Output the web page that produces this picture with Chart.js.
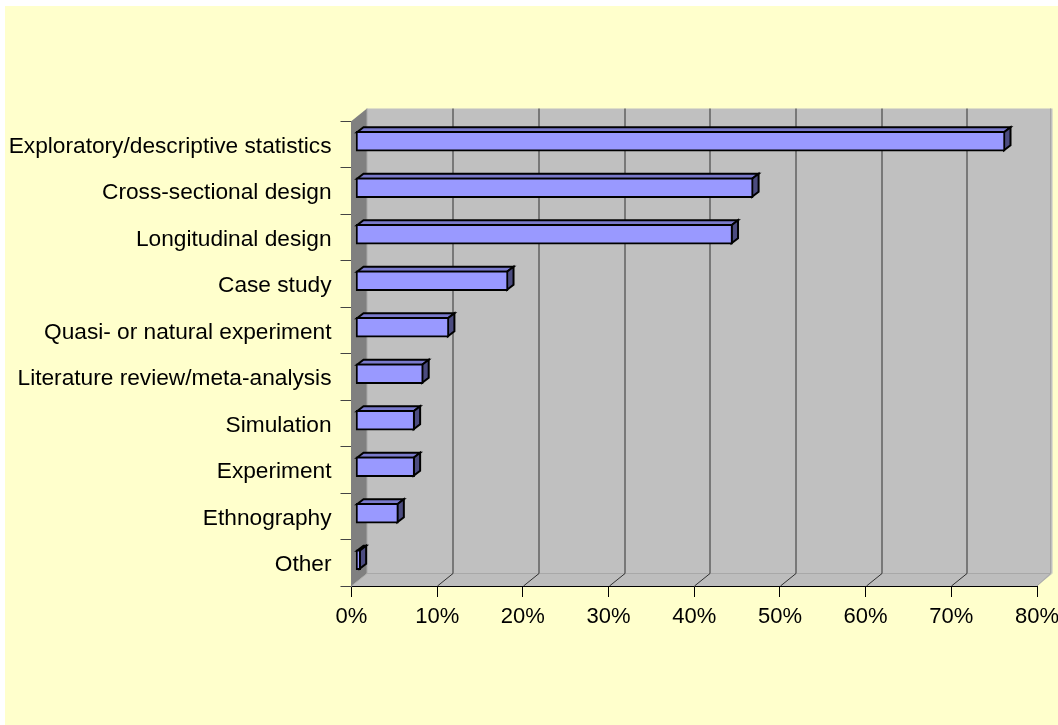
<!DOCTYPE html>
<html><head><meta charset="utf-8">
<style>html,body{margin:0;padding:0;background:#fff}#w{position:absolute;left:0;top:0;width:1058px;height:725px}</style>
<script src="https://cdn.jsdelivr.net/npm/chart.js@4"></script></head>
<body><div id="w"><canvas id="c" width="1058" height="725"></canvas></div>
<script>
const categories=["Exploratory/descriptive statistics","Cross-sectional design","Longitudinal design","Case study","Quasi- or natural experiment","Literature review/meta-analysis","Simulation","Experiment","Ethnography","Other"];
const shares=[75.8,46.4,44.0,17.8,10.9,7.9,6.9,6.9,5.0,0.6];
const xTicks=[0,10,20,30,40,50,60,70,80];
const wallDx=15.5,wallDy=-12.5,barDx=6.5,barDy=-5,barShiftX=4,barShiftY=-3;
const font={family:"'Liberation Sans',Arial,sans-serif",size:22.7};
const xFont={family:"'Liberation Sans',Arial,sans-serif",size:22};
const scene={id:'scene',
 beforeDraw(ch){const g=ch.ctx,{left:l,right:r,top:t,bottom:b}=ch.chartArea,x=ch.scales.x;
  g.save();
  g.fillStyle='#FFFFCC';g.fillRect(5,6,1053,719);
  g.fillStyle='#C0C0C0';g.fillRect(l+wallDx,t+wallDy,r-l,b-t);
  g.fillStyle='#808080';g.beginPath();g.moveTo(l,t);g.lineTo(l+wallDx,t+wallDy);g.lineTo(l+wallDx,b+wallDy);g.lineTo(l,b);g.fill();
  g.fillStyle='#BDBDBD';g.beginPath();g.moveTo(l,b);g.lineTo(l+wallDx,b+wallDy);g.lineTo(r+wallDx,b+wallDy);g.lineTo(r,b);g.fill();
  g.strokeStyle='#A8A8A8';g.lineWidth=1;g.beginPath();
  g.moveTo(l+wallDx,t+wallDy);g.lineTo(l+wallDx,b+wallDy);g.lineTo(r+wallDx-2,b+wallDy);g.lineTo(r+wallDx-2,t+wallDy);
  g.moveTo(l+wallDx,b+wallDy);g.lineTo(l,b);g.moveTo(r+wallDx-2,b+wallDy);g.lineTo(r,b);g.stroke();
  g.strokeStyle='#303030';g.beginPath();
  xTicks.slice(1,-1).forEach(v=>{const p=Math.round(x.getPixelForValue(v))+.5;
   g.moveTo(p,b);g.lineTo(p+wallDx,b+wallDy);g.lineTo(p+wallDx,t+wallDy);});
  g.stroke();g.restore();},
 beforeDatasetDraw(ch,a){const g=ch.ctx;g.save();g.translate(barShiftX,barShiftY);
  const m=ch.getDatasetMeta(a.index);
  g.lineWidth=2;g.strokeStyle='#000';g.lineJoin='miter';
  m.data.forEach(e=>{const {x,y,base,height}=e.getProps(['x','y','base','height'],true);const T=y-height/2+1,B=y+height/2-1,L=base+1,R=x-1;
   g.fillStyle='#7A7ACC';g.beginPath();g.moveTo(L,T);g.lineTo(L+barDx,T+barDy);g.lineTo(R+barDx,T+barDy);g.lineTo(R,T);g.closePath();g.fill();g.stroke();
   g.fillStyle='#4C4C80';g.beginPath();g.moveTo(R,T);g.lineTo(R+barDx,T+barDy);g.lineTo(R+barDx,B+barDy);g.lineTo(R,B);g.closePath();g.fill();g.stroke();
  });},
 afterDatasetDraw(ch){ch.ctx.restore();},
};
new Chart(document.getElementById('c'),{type:'bar',plugins:[scene],
 data:{labels:categories,datasets:[{data:shares,backgroundColor:'#9999FF',borderColor:'#000',borderWidth:2,barThickness:20,borderSkipped:false}]},
 options:{indexAxis:'y',responsive:false,animation:false,
  layout:{padding:{top:121,right:21,left:0,bottom:0},autoPadding:false},
  plugins:{legend:{display:false},tooltip:{enabled:false},title:{display:false}},
  scales:{
   x:{min:0,max:80,afterBuildTicks(s){s.ticks=xTicks.map(v=>({value:v}));},afterFit(s){s.height=139;s.paddingLeft=0;s.paddingRight=0;},
      grid:{display:true,drawOnChartArea:false,drawTicks:true,tickLength:11,color:'#000'},border:{display:true,color:'#000',width:1},
      ticks:{color:'#000',font:xFont,maxRotation:0,autoSkip:false,padding:7,callback:v=>v+'%'}},
   y:{afterFit(s){s.width=351.5;s.paddingTop=0;s.paddingBottom=0;},grid:{display:true,drawOnChartArea:false,drawTicks:true,tickLength:11,color:c=>c.index===categories.length?'#000':'#444',offset:true},border:{display:true,color:'#808080',width:1},
      ticks:{color:'#000',font,autoSkip:false,padding:9,labelOffset:2}}
  }}});
</script></body></html>
